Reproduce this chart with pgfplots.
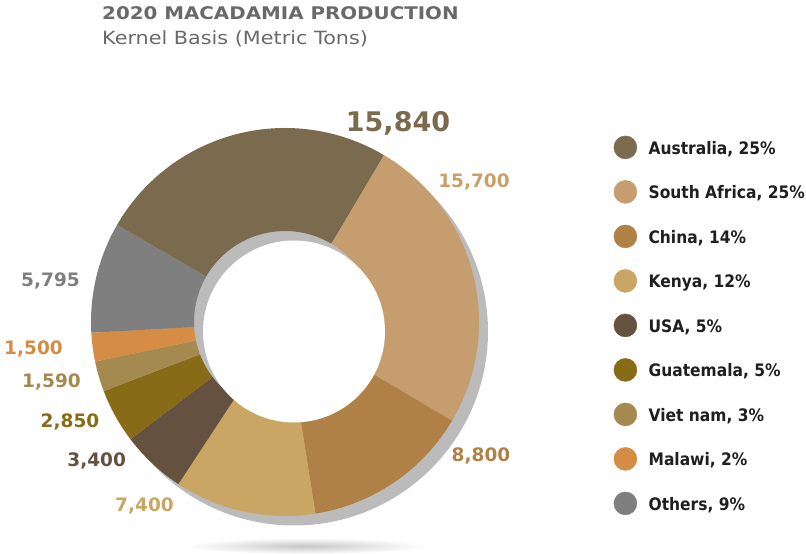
\documentclass[border=0pt]{standalone}
\usepackage{pgfplots}
\pgfplotsset{compat=1.18}
\usepackage{pgfplotstable}
\usepackage{fontspec}
\setmainfont{DejaVu Sans}
\newfontfamily\titlefont[FakeStretch=1.14]{DejaVu Sans}
\newfontfamily\legfont[FakeStretch=0.9]{DejaVu Sans}
\definecolor{c0}{HTML}{7A6A4E}
\definecolor{c1}{HTML}{C59D6E}
\definecolor{c2}{HTML}{B08146}
\definecolor{c3}{HTML}{C9A663}
\definecolor{c4}{HTML}{655140}
\definecolor{c5}{HTML}{876B17}
\definecolor{c6}{HTML}{A58A50}
\definecolor{c7}{HTML}{D58C45}
\definecolor{c8}{HTML}{7F7F7F}
\definecolor{shadowgray}{HTML}{BBBBBB}
\definecolor{titlegray}{HTML}{696969}
\definecolor{lab1}{HTML}{C9A06A}
% 2020 macadamia production, kernel basis (metric tons)
% Australia, South Africa, China, Kenya, USA, Guatemala, Viet nam, Malawi, Others
\pgfplotstableread{
value
15840
15700
8800
7400
3400
2850
1590
1500
5795
}\macdata
\begin{document}%
\begin{tikzpicture}
\def\total{0}
\pgfplotstableforeachcolumnelement{value}\of\macdata\as\v{\xdef\total{\fpeval{\total+\v}}}
\xdef\cur{150}
\foreach \i in {0,...,8}{%
  \pgfplotstablegetelem{\i}{value}\of\macdata
  \xdef\val{\pgfplotsretval}%
  \expandafter\xdef\csname sa\i\endcsname{\cur}%
  \xdef\cur{\fpeval{\cur - 360*\val/\total}}%
  \expandafter\xdef\csname ea\i\endcsname{\cur}%
}
\begin{axis}[
  width=806pt, height=554pt, scale only axis,
  xmin=0, xmax=806, ymin=0, ymax=554,
  hide axis, clip=false,
  legend image code/.code={\fill[#1] (11.5pt,1pt) circle[radius=11.5pt];},
  legend style={at={(axis cs:613.5,418.5)}, anchor=north west, draw=none, fill=none,
    inner sep=0pt, row sep=21.1pt, column sep=11.5pt,
    font=\legfont\bfseries\fontsize{17.2}{20}\selectfont, text=black!88,
    nodes={inner sep=0pt}},
  legend cell align=left,
]
% soft floor shadow
\shade[inner color=black!22, outer color=white] (axis cs:305,8) ellipse[x radius=120pt, y radius=8pt];
% donut shadow
\fill[shadowgray] (axis cs:294,222.5) circle[radius=194pt];
\pgfplotsinvokeforeach{0,...,8}{%
  \fill[c#1] ([shift={(\csname sa#1\endcsname:194pt)}]axis cs:285,232)
    arc[start angle=\csname sa#1\endcsname, end angle=\csname ea#1\endcsname, radius=194pt]
    -- ([shift={(\csname ea#1\endcsname:91pt)}]axis cs:285,232)
    arc[start angle=\csname ea#1\endcsname, end angle=\csname sa#1\endcsname, radius=91pt]
    -- cycle;
}
\fill[white] (axis cs:294,222.5) circle[radius=91pt];
% titles
\node[anchor=base west, inner sep=0pt, text=titlegray, font=\titlefont\bfseries\fontsize{17.4}{20}\selectfont] at (axis cs:102,534.5) {2020 MACADAMIA PRODUCTION};
\node[anchor=base west, inner sep=0pt, text=titlegray, font=\titlefont\fontsize{18.2}{20}\selectfont] at (axis cs:102,509) {Kernel Basis (Metric Tons)};
% value labels
\node[anchor=base, inner sep=0pt, text=c0, font=\bfseries\fontsize{27}{30}\selectfont] at (axis cs:398,422.3) {15,840};
\node[anchor=base, inner sep=0pt, text=lab1, font=\bfseries\fontsize{18.5}{20}\selectfont] at (axis cs:474,366) {15,700};
\node[anchor=base, inner sep=0pt, text=c2, font=\bfseries\fontsize{18.5}{20}\selectfont] at (axis cs:481,92.3) {8,800};
\node[anchor=base, inner sep=0pt, text=c3, font=\bfseries\fontsize{18.5}{20}\selectfont] at (axis cs:144.5,42.3) {7,400};
\node[anchor=base, inner sep=0pt, text=c4, font=\bfseries\fontsize{18.5}{20}\selectfont] at (axis cs:96.7,87) {3,400};
\node[anchor=base, inner sep=0pt, text=c5, font=\bfseries\fontsize{18.5}{20}\selectfont] at (axis cs:70,126) {2,850};
\node[anchor=base, inner sep=0pt, text=c6, font=\bfseries\fontsize{18.5}{20}\selectfont] at (axis cs:51.5,166) {1,590};
\node[anchor=base, inner sep=0pt, text=c7, font=\bfseries\fontsize{18.5}{20}\selectfont] at (axis cs:33.5,199) {1,500};
\node[anchor=base, inner sep=0pt, text=c8, font=\bfseries\fontsize{18.5}{20}\selectfont] at (axis cs:50.5,267) {5,795};
% legend
\addlegendimage{c0}\addlegendentry{Australia, 25\%}
\addlegendimage{c1}\addlegendentry{South Africa, 25\%}
\addlegendimage{c2}\addlegendentry{China, 14\%}
\addlegendimage{c3}\addlegendentry{Kenya, 12\%}
\addlegendimage{c4}\addlegendentry{USA, 5\%}
\addlegendimage{c5}\addlegendentry{Guatemala, 5\%}
\addlegendimage{c6}\addlegendentry{Viet nam, 3\%}
\addlegendimage{c7}\addlegendentry{Malawi, 2\%}
\addlegendimage{c8}\addlegendentry{Others, 9\%}
\end{axis}
\pgfresetboundingbox
\useasboundingbox (0,0) rectangle (806pt,554pt);
\end{tikzpicture}%
\end{document}
